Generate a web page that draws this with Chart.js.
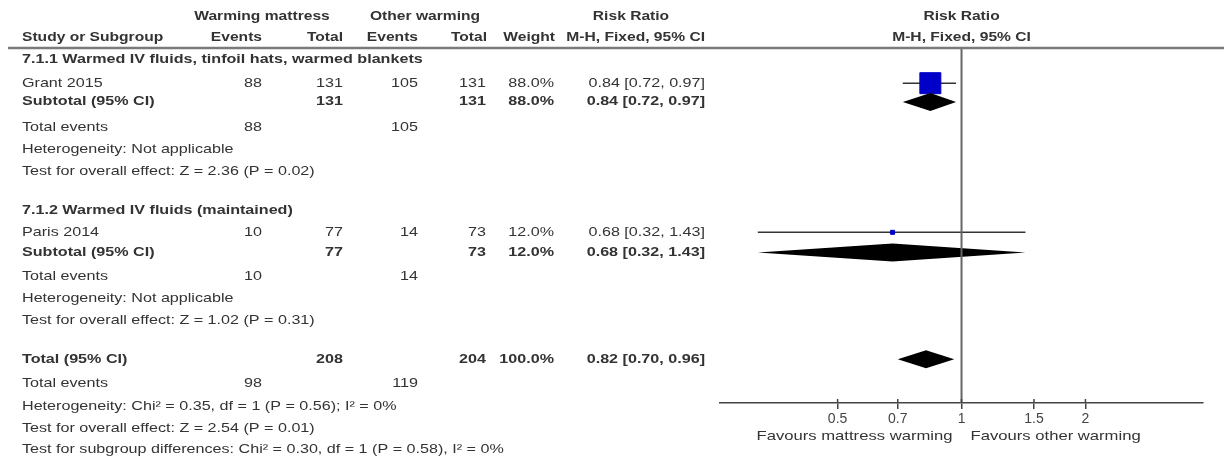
<!DOCTYPE html>
<html>
<head>
<meta charset="utf-8">
<title>Forest plot: mattress warming vs other warming</title>
<script src="https://cdn.jsdelivr.net/npm/chart.js@4.4.1/dist/chart.umd.min.js"></script>
<style>
  html, body { margin: 0; padding: 0; background: #fff; }
  canvas { display: block; }
</style>
</head>
<body>
<canvas id="forest" width="1224" height="461"></canvas>
<script>
// ---- data ----
const subgroups = ['7.1.1 Warmed IV fluids, tinfoil hats, warmed blankets', '7.1.2 Warmed IV fluids (maintained)'];
const studies = ['Grant 2015', 'Paris 2014'];
const mattressEvents = [88, 10];
const mattressTotal = [131, 77];
const otherEvents = [105, 14];
const otherTotal = [131, 73];
const weights = [88.0, 12.0];
const rr = [0.84, 0.68];
const rrLow = [0.72, 0.32];
const rrHigh = [0.97, 1.43];
const subtotalRR = [0.84, 0.68];
const subtotalLow = [0.72, 0.32];
const subtotalHigh = [0.97, 1.43];
const subtotalWeight = [88.0, 12.0];
const subHeterogeneity = ['Heterogeneity: Not applicable', 'Heterogeneity: Not applicable'];
const subEffect = ['Test for overall effect: Z = 2.36 (P = 0.02)', 'Test for overall effect: Z = 1.02 (P = 0.31)'];
const totalRR = 0.82;
const totalLow = 0.70;
const totalHigh = 0.96;
const totalWeight = 100.0;
const totalHeterogeneity = 'Heterogeneity: Chi\u00b2 = 0.35, df = 1 (P = 0.56); I\u00b2 = 0%';
const totalEffect = 'Test for overall effect: Z = 2.54 (P = 0.01)';
const subgroupDiff = 'Test for subgroup differences: Chi\u00b2 = 0.30, df = 1 (P = 0.58), I\u00b2 = 0%';
const tickValues = [0.5, 0.7, 1, 1.5, 2];
const tickLabels = ['0.5', '0.7', '1', '1.5', '2'];
const favoursLeft = 'Favours mattress warming';
const favoursRight = 'Favours other warming';

// ---- layout (row slots below the header rule, one unit = one text line) ----
const headRow = [-1.45, -0.5];
const groupRow = [0.5, 7.4];
const studyRow = [1.6, 8.38];
const subRow = [2.45, 9.3];
const eventsRow = [3.6, 10.4];
const hetRow = [4.6, 11.4];
const effRow = [5.6, 12.4];
const totalRow = 14.15, totalEventsRow = 15.25, totalHetRow = 16.3, totalEffRow = 17.3, diffRow = 18.25;
const COL = { label: 22, ev1: 262, tot1: 343, ev2: 418, tot2: 486, weight: 554, ci: 705 };

const FONT = '"Liberation Sans", Arial, Helvetica, sans-serif';
const INK = '#333';
const SX = 1.24;           // horizontal stretch of the table lettering
const SX_HEAD = 1.2;       // column headings are set a touch tighter
const DIAMOND_HALF = 9;    // half height of pooled-estimate diamonds, px

const fmtCI = (e, l, h) => e.toFixed(2) + ' [' + l.toFixed(2) + ', ' + h.toFixed(2) + ']';
const fmtW = w => w.toFixed(1) + '%';
const sum = a => a.reduce((s, v) => s + v, 0);

function put(ctx, s, x, y, align, bold, stretch) {
  ctx.save();
  ctx.font = (bold ? 'bold ' : '') + '13px ' + FONT;
  ctx.fillStyle = INK;
  ctx.textBaseline = 'middle';
  ctx.textAlign = align;
  ctx.translate(x, y);
  ctx.scale(stretch || SX, 1);
  ctx.fillText(s, 0, 0);
  ctx.restore();
}
const head = (ctx, s, x, y, align) => put(ctx, s, x, y, align, true, SX_HEAD);

function diamond(chart, est, lo, hi, row) {
  const { ctx, scales: { x, y } } = chart;
  const cy = y.getPixelForValue(row);
  ctx.save();
  ctx.fillStyle = '#000';
  ctx.beginPath();
  ctx.moveTo(x.getPixelForValue(lo), cy);
  ctx.lineTo(x.getPixelForValue(est), cy - DIAMOND_HALF);
  ctx.lineTo(x.getPixelForValue(hi), cy);
  ctx.lineTo(x.getPixelForValue(est), cy + DIAMOND_HALF);
  ctx.closePath();
  ctx.fill();
  ctx.restore();
}

const forestPlugin = {
  id: 'forestTable',
  afterDatasetsDraw(chart) {
    const { ctx, chartArea, scales: { x } } = chart;
    // pooled estimates
    subtotalRR.forEach((e, i) => diamond(chart, e, subtotalLow[i], subtotalHigh[i], subRow[i]));
    diamond(chart, totalRR, totalLow, totalHigh, totalRow);
    // line of no effect
    const x1 = x.getPixelForValue(1);
    ctx.save();
    ctx.strokeStyle = '#666';
    ctx.lineWidth = 2;
    ctx.beginPath();
    ctx.moveTo(x1, chartArea.top);
    ctx.lineTo(x1, chartArea.bottom);
    ctx.stroke();
    // tick marks also poke a little above the axis line
    ctx.strokeStyle = '#444';
    ctx.lineWidth = 1.5;
    tickValues.forEach(v => {
      const px = x.getPixelForValue(v);
      ctx.beginPath();
      ctx.moveTo(px, chartArea.bottom - 4);
      ctx.lineTo(px, chartArea.bottom);
      ctx.stroke();
    });
    // header rule
    ctx.strokeStyle = '#7a7a7a';
    ctx.lineWidth = 2.5;
    ctx.beginPath();
    ctx.moveTo(8, chartArea.top);
    ctx.lineTo(chart.width, chartArea.top);
    ctx.stroke();
    ctx.restore();
  },
  afterDraw(chart) {
    const { ctx, scales: { x, y } } = chart;
    const Y = v => y.getPixelForValue(v);
    const xc = x.getPixelForValue(1);

    // column headings
    head(ctx, 'Warming mattress', 262, Y(headRow[0]), 'center');
    head(ctx, 'Other warming', 425, Y(headRow[0]), 'center');
    head(ctx, 'Risk Ratio', 631, Y(headRow[0]), 'center');
    head(ctx, 'Risk Ratio', xc, Y(headRow[0]), 'center');
    head(ctx, 'Study or Subgroup', COL.label, Y(headRow[1]), 'left');
    head(ctx, 'Events', COL.ev1, Y(headRow[1]), 'right');
    head(ctx, 'Total', COL.tot1, Y(headRow[1]), 'right');
    head(ctx, 'Events', COL.ev2, Y(headRow[1]), 'right');
    head(ctx, 'Total', COL.tot2 + 1, Y(headRow[1]), 'right');
    head(ctx, 'Weight', COL.weight + 1, Y(headRow[1]), 'right');
    head(ctx, 'M-H, Fixed, 95% CI', COL.ci, Y(headRow[1]), 'right');
    head(ctx, 'M-H, Fixed, 95% CI', xc, Y(headRow[1]), 'center');

    // subgroups
    subgroups.forEach((g, i) => {
      put(ctx, g, COL.label, Y(groupRow[i]), 'left', true);
      const ys = Y(studyRow[i]);
      put(ctx, studies[i], COL.label, ys, 'left');
      put(ctx, String(mattressEvents[i]), COL.ev1, ys, 'right');
      put(ctx, String(mattressTotal[i]), COL.tot1, ys, 'right');
      put(ctx, String(otherEvents[i]), COL.ev2, ys, 'right');
      put(ctx, String(otherTotal[i]), COL.tot2, ys, 'right');
      put(ctx, fmtW(weights[i]), COL.weight, ys, 'right');
      put(ctx, fmtCI(rr[i], rrLow[i], rrHigh[i]), COL.ci, ys, 'right');
      const yb = Y(subRow[i]);
      put(ctx, 'Subtotal (95% CI)', COL.label, yb, 'left', true);
      put(ctx, String(mattressTotal[i]), COL.tot1, yb, 'right', true);
      put(ctx, String(otherTotal[i]), COL.tot2, yb, 'right', true);
      put(ctx, fmtW(subtotalWeight[i]), COL.weight, yb, 'right', true);
      put(ctx, fmtCI(subtotalRR[i], subtotalLow[i], subtotalHigh[i]), COL.ci, yb, 'right', true);
      const ye = Y(eventsRow[i]);
      put(ctx, 'Total events', COL.label, ye, 'left');
      put(ctx, String(mattressEvents[i]), COL.ev1, ye, 'right');
      put(ctx, String(otherEvents[i]), COL.ev2, ye, 'right');
      put(ctx, subHeterogeneity[i], COL.label, Y(hetRow[i]), 'left');
      put(ctx, subEffect[i], COL.label, Y(effRow[i]), 'left');
    });

    // overall
    const yt = Y(totalRow);
    put(ctx, 'Total (95% CI)', COL.label, yt, 'left', true);
    put(ctx, String(sum(mattressTotal)), COL.tot1, yt, 'right', true);
    put(ctx, String(sum(otherTotal)), COL.tot2, yt, 'right', true);
    put(ctx, fmtW(totalWeight), COL.weight, yt, 'right', true);
    put(ctx, fmtCI(totalRR, totalLow, totalHigh), COL.ci, yt, 'right', true);
    const yte = Y(totalEventsRow);
    put(ctx, 'Total events', COL.label, yte, 'left');
    put(ctx, String(sum(mattressEvents)), COL.ev1, yte, 'right');
    put(ctx, String(sum(otherEvents)), COL.ev2, yte, 'right');
    put(ctx, totalHeterogeneity, COL.label, Y(totalHetRow), 'left');
    put(ctx, totalEffect, COL.label, Y(totalEffRow), 'left');
    put(ctx, subgroupDiff, COL.label, Y(diffRow), 'left');

    // direction labels under the axis
    const yf = chart.chartArea.bottom + 33;
    put(ctx, favoursLeft, xc - 9, yf, 'right', false, 1.28);
    put(ctx, favoursRight, xc + 9, yf, 'left', false, 1.28);
  }
};

// marker side grows with study weight
const markerSide = w => Math.max(4, 21 * w / 88);

const ciSets = studies.map((s, i) => ({
  label: s + ' CI',
  data: [{ x: rrLow[i], y: studyRow[i] }, { x: rrHigh[i], y: studyRow[i] }],
  showLine: true,
  borderColor: '#333',
  borderWidth: 1.5,
  pointRadius: 0
}));

const squareSet = {
  label: 'Risk ratio',
  data: studies.map((s, i) => ({ x: rr[i], y: studyRow[i] })),
  pointStyle: 'rect',
  pointRadius: c => markerSide(weights[c.dataIndex]) / Math.SQRT2,
  backgroundColor: '#0000c8',
  borderColor: '#0000c8',
  borderWidth: 1
};

new Chart(document.getElementById('forest'), {
  type: 'scatter',
  data: { datasets: [squareSet, ...ciSets] },
  options: {
    responsive: false,
    animation: false,
    events: [],
    layout: { padding: { left: 720, right: 21, top: 48, bottom: 28 } },
    plugins: { legend: { display: false }, tooltip: { enabled: false } },
    scales: {
      x: {
        type: 'logarithmic',
        min: 0.259,
        max: 3.86,
        afterBuildTicks: s => { s.ticks = tickValues.map(v => ({ value: v })); },
        afterFit: s => { s.height = 30; },
        ticks: {
          autoSkip: false,
          maxRotation: 0,
          padding: 2,
          color: '#444',
          font: { family: FONT, size: 14 },
          callback: (v, i) => tickLabels[i]
        },
        grid: { display: true, drawOnChartArea: false, drawTicks: true, tickLength: 6, color: '#444', lineWidth: 1.5 },
        border: { display: true, color: '#444', width: 1.5 }
      },
      y: { type: 'linear', reverse: true, min: 0, max: 16.14, display: false }
    }
  },
  plugins: [forestPlugin]
});
</script>
</body>
</html>
